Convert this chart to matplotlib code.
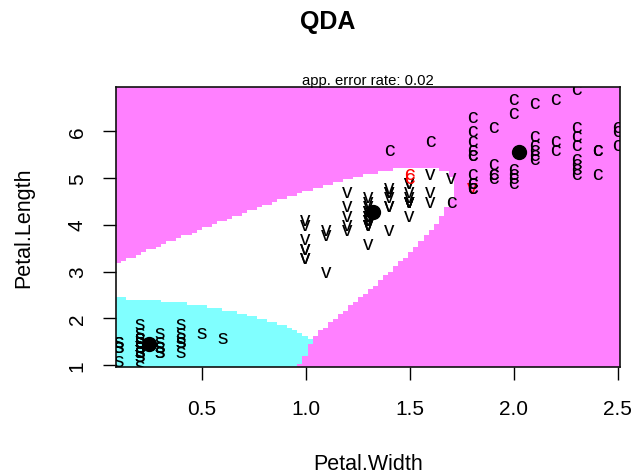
import matplotlib
matplotlib.use("Agg")
import matplotlib.pyplot as plt
from matplotlib.colors import ListedColormap
import numpy as np

plt.rcParams['font.family'] = ['Liberation Sans', 'DejaVu Sans']

# iris petal measurements (setosa, versicolor, virginica)
petal_length = [
    1.4, 1.4, 1.3, 1.5, 1.4, 1.7, 1.4, 1.5, 1.4, 1.5, 1.5, 1.6, 1.4, 1.1, 1.2, 1.5, 1.3, 1.4, 1.7, 1.5,
    1.7, 1.5, 1.0, 1.7, 1.9, 1.6, 1.6, 1.5, 1.4, 1.6, 1.6, 1.5, 1.5, 1.4, 1.5, 1.2, 1.3, 1.4, 1.3, 1.5,
    1.3, 1.3, 1.3, 1.6, 1.9, 1.4, 1.6, 1.4, 1.5, 1.4,
    4.7, 4.5, 4.9, 4.0, 4.6, 4.5, 4.7, 3.3, 4.6, 3.9, 3.5, 4.2, 4.0, 4.7, 3.6, 4.4, 4.5, 4.1, 4.5, 3.9,
    4.8, 4.0, 4.9, 4.7, 4.3, 4.4, 4.8, 5.0, 4.5, 3.5, 3.8, 3.7, 3.9, 5.1, 4.5, 4.5, 4.7, 4.4, 4.1, 4.0,
    4.4, 4.6, 4.0, 3.3, 4.2, 4.2, 4.2, 4.3, 3.0, 4.1,
    6.0, 5.1, 5.9, 5.6, 5.8, 6.6, 4.5, 6.3, 5.8, 6.1, 5.1, 5.3, 5.5, 5.0, 5.1, 5.3, 5.5, 6.7, 6.9, 5.0,
    5.7, 4.9, 6.7, 4.9, 5.7, 6.0, 4.8, 4.9, 5.6, 5.8, 6.1, 6.4, 5.6, 5.1, 5.6, 6.1, 5.6, 5.5, 4.8, 5.4,
    5.6, 5.1, 5.1, 5.9, 5.7, 5.2, 5.0, 5.2, 5.4, 5.1]
petal_width = [
    0.2, 0.2, 0.2, 0.2, 0.2, 0.4, 0.3, 0.2, 0.2, 0.1, 0.2, 0.2, 0.1, 0.1, 0.2, 0.4, 0.4, 0.3, 0.3, 0.3,
    0.2, 0.4, 0.2, 0.5, 0.2, 0.2, 0.4, 0.2, 0.2, 0.2, 0.2, 0.4, 0.1, 0.2, 0.2, 0.2, 0.2, 0.1, 0.2, 0.2,
    0.3, 0.3, 0.2, 0.6, 0.4, 0.3, 0.2, 0.2, 0.2, 0.2,
    1.4, 1.5, 1.5, 1.3, 1.5, 1.3, 1.6, 1.0, 1.3, 1.4, 1.0, 1.5, 1.0, 1.4, 1.3, 1.4, 1.5, 1.0, 1.5, 1.1,
    1.8, 1.3, 1.5, 1.2, 1.3, 1.4, 1.4, 1.7, 1.5, 1.0, 1.1, 1.0, 1.2, 1.6, 1.5, 1.6, 1.5, 1.3, 1.3, 1.3,
    1.2, 1.4, 1.2, 1.0, 1.3, 1.2, 1.3, 1.3, 1.1, 1.3,
    2.5, 1.9, 2.1, 1.8, 2.2, 2.1, 1.7, 1.8, 1.8, 2.5, 2.0, 1.9, 2.1, 2.0, 2.4, 2.3, 1.8, 2.2, 2.3, 1.5,
    2.3, 2.0, 2.0, 1.8, 2.1, 1.8, 1.8, 1.8, 2.1, 1.6, 1.9, 2.0, 2.2, 1.5, 1.4, 2.3, 2.4, 1.8, 1.8, 2.1,
    2.4, 2.3, 1.9, 2.3, 2.5, 2.3, 1.9, 2.0, 2.3, 1.8]
species = [0] * 50 + [1] * 50 + [2] * 50
class_letters = ['s', 'v', 'c']
region_colors = ['#80FFFF', '#FFFFFF', '#FF80FF']
x_ticks = [0.5, 1.0, 1.5, 2.0, 2.5]
y_ticks = [1, 2, 3, 4, 5, 6]

x = np.array(petal_width)
y = np.array(petal_length)
g = np.array(species)
X = np.column_stack([x, y])

# quadratic discriminant analysis, equal priors
means, covs = [], []
for k in range(3):
    pts = X[g == k]
    means.append(pts.mean(axis=0))
    covs.append(np.cov(pts.T))

def qda_predict(P):
    scores = []
    for k in range(3):
        d = P - means[k]
        inv = np.linalg.inv(covs[k])
        m = np.einsum('ij,jk,ik->i', d, inv, d)
        scores.append(-0.5 * np.log(np.linalg.det(covs[k])) - 0.5 * m + np.log(1 / 3))
    return np.argmax(np.array(scores), axis=0)

pred = qda_predict(X)
err = np.mean(pred != g)

prec = 100
xg = np.linspace(x.min(), x.max(), prec)
yg = np.linspace(y.min(), y.max(), prec)
XX, YY = np.meshgrid(xg, yg)
Z = qda_predict(np.column_stack([XX.ravel(), YY.ravel()])).reshape(XX.shape)

fig = plt.figure(figsize=(6.44, 4.77), dpi=100)
ax = fig.add_axes([0.180, 0.229, 0.783, 0.586])
ax.pcolormesh(xg, yg, Z, cmap=ListedColormap(region_colors), vmin=-0.5, vmax=2.5,
              shading='nearest')
hx = (xg[1] - xg[0]) / 2
hy = (yg[1] - yg[0]) / 2
ax.set_xlim(xg[0] - hx, xg[-1] + hx)
ax.set_ylim(yg[0] - hy, yg[-1] + hy)

for xi, yi, gi, pi in zip(x, y, g, pred):
    ax.text(xi, yi, class_letters[gi], ha='center', va='center', fontsize=15,
            color='black' if gi == pi else 'red', clip_on=True)
for m in means:
    ax.plot(m[0], m[1], 'o', color='black', markersize=10)

ax.set_xticks(x_ticks)
ax.set_xticklabels(['%.1f' % t for t in x_ticks])
ax.set_yticks(y_ticks)
ax.set_yticklabels([str(t) for t in y_ticks], rotation=90, va='center')
ax.tick_params(direction='out', length=9.5, width=1.0, labelsize=15)
ax.tick_params(axis='x', pad=14)
ax.tick_params(axis='y', pad=11.5)
for s in ax.spines.values():
    s.set_linewidth(1.2)
    s.set_color('#111111')

ax.set_xlabel('Petal.Width', fontsize=15.5, labelpad=25)
ax.set_ylabel('Petal.Length', fontsize=15.5, labelpad=24)
ax.set_title('app. error rate: %.2f' % err, fontsize=10.7, pad=2)
fig.text(0.509, 0.953, 'QDA', ha='center', va='center', fontsize=18, fontweight='bold')

fig.savefig('out.png', dpi=100)
